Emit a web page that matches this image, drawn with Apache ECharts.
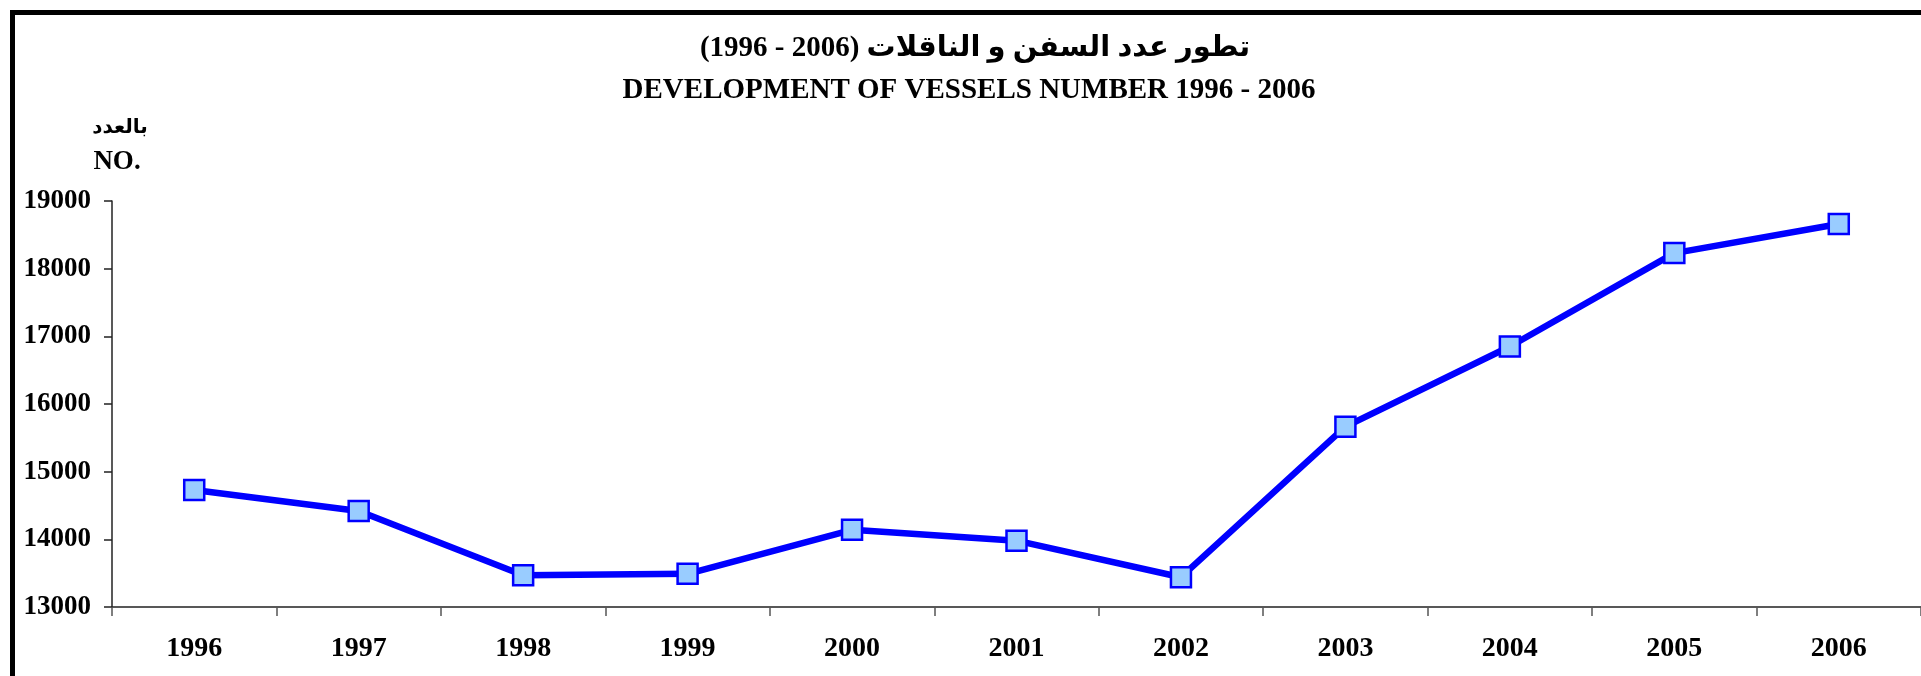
<!DOCTYPE html>
<html>
<head>
<meta charset="utf-8">
<script src="https://cdn.jsdelivr.net/npm/echarts@6/dist/echarts.min.js"></script>
<style>
html,body{margin:0;padding:0;background:#fff;}
#chart{width:1921px;height:676px;}
</style>
</head>
<body>
<div id="chart"></div>
<script>
var years = ['1996','1997','1998','1999','2000','2001','2002','2003','2004','2005','2006'];
var vessels = [14730, 14420, 13470, 13490, 14140, 13980, 13440, 15665, 16850, 18230, 18660];
var yMin = 13000, yMax = 19000, yStep = 1000;
var titleAr = 'تطور عدد السفن و الناقلات (2006 - 1996)';
var titleEn = 'DEVELOPMENT OF VESSELS NUMBER 1996 - 2006';
var unitAr = 'بالعدد';
var unitEn = 'NO.';

var FONT = '"Liberation Serif", "Times New Roman", "DejaVu Sans", serif';
var chart = echarts.init(document.getElementById('chart'), null, {renderer:'canvas'});
chart.setOption({
  backgroundColor:'#ffffff',
  animation:false,
  grid:{left:112, top:201, width:1818, height:406, containLabel:false},
  xAxis:{
    type:'category', data:years, boundaryGap:true,
    axisLine:{show:true, lineStyle:{color:'#222', width:1.5}},
    axisTick:{show:true, length:9, lineStyle:{color:'#555', width:1.5}},
    axisLabel:{color:'#000', fontFamily:FONT, fontWeight:'bold', fontSize:28, margin:28},
    splitLine:{show:false}
  },
  yAxis:{
    type:'value', min:yMin, max:yMax, interval:yStep,
    axisLine:{show:true, lineStyle:{color:'#222', width:1.5}},
    axisTick:{show:true, length:8, lineStyle:{color:'#222', width:1.5}},
    axisLabel:{color:'#000', fontFamily:FONT, fontWeight:'bold', fontSize:27, margin:21,
      formatter:function(v){return String(v);}},
    splitLine:{show:false}
  },
  series:[{
    type:'line', data:vessels,
    symbol:'rect', symbolSize:20,
    lineStyle:{color:'#0000ff', width:6.5},
    itemStyle:{color:'#99ccff', borderColor:'#0000ff', borderWidth:2.5},
    z:3
  }],
  graphic:[
    {type:'rect', z:-1, silent:true,
     shape:{x:12.5, y:12.5, width:1960, height:720},
     style:{fill:'none', stroke:'#000', lineWidth:5}},
    {type:'text', x:975, y:49, style:{text:titleAr, font:'bold 29px '+FONT, fill:'#000', textAlign:'center', textVerticalAlign:'middle'}},
    {type:'text', x:969, y:91, style:{text:titleEn, font:'bold 29px '+FONT, fill:'#000', textAlign:'center', textVerticalAlign:'middle'}},
    {type:'text', x:120, y:128, style:{text:unitAr, font:'bold 20px '+FONT, fill:'#000', textAlign:'center', textVerticalAlign:'middle'}},
    {type:'text', x:117, y:162, style:{text:unitEn, font:'bold 27px '+FONT, fill:'#000', textAlign:'center', textVerticalAlign:'middle'}}
  ]
});
</script>
</body>
</html>
